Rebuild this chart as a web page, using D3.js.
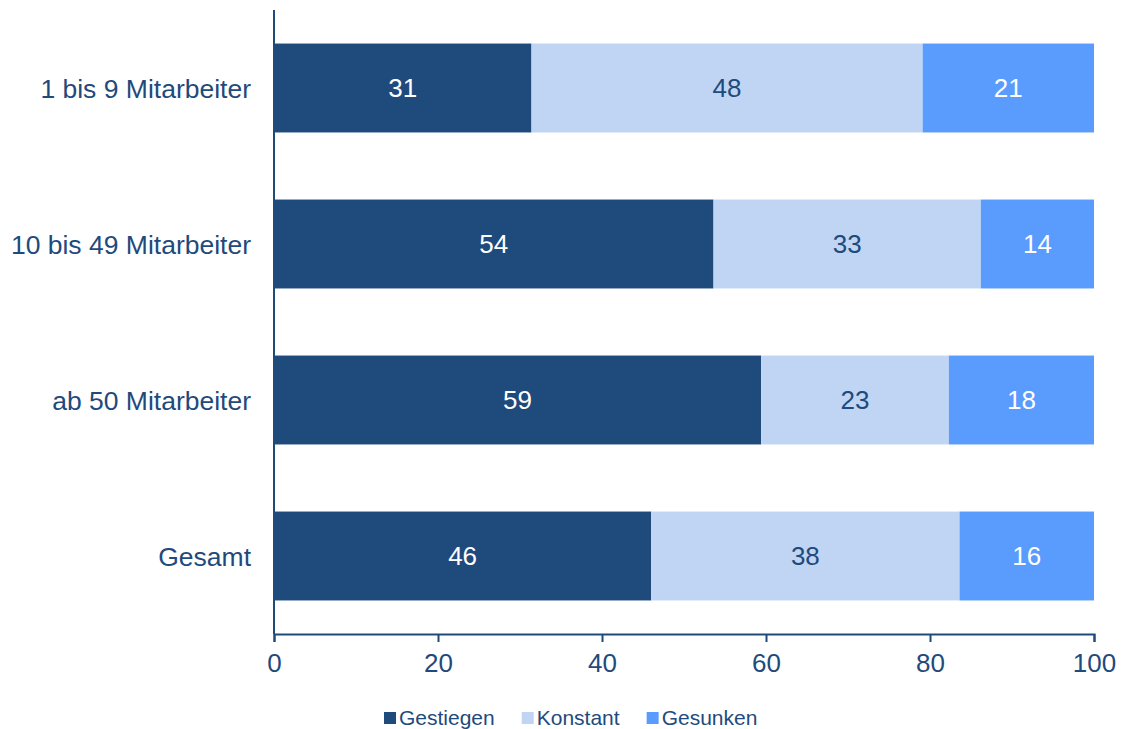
<!DOCTYPE html>
<html>
<head>
<meta charset="utf-8">
<script src="https://cdn.jsdelivr.net/npm/d3@7"></script>
<style>
  body { margin: 0; background: #fff; }
  text { font-family: "Liberation Sans", Arial, sans-serif; }
</style>
</head>
<body>
<script>
// chart data
var categories = ["1 bis 9 Mitarbeiter", "10 bis 49 Mitarbeiter", "ab 50 Mitarbeiter", "Gesamt"];
var seriesNames = ["Gestiegen", "Konstant", "Gesunken"];
var gestiegen = [31.4, 53.6, 59.4, 46.0];
var konstant = [47.7, 32.6, 22.9, 37.6];
var gesunken = [20.9, 13.8, 17.7, 16.4];
var xTicks = [0, 20, 40, 60, 80, 100];

var colors = ["#1f4a7c", "#c0d5f4", "#5a9bfe"];
var labelColors = ["#ffffff", "#1f4a7c", "#ffffff"];
var axisColor = "#1f4a7c";

var width = 1123, height = 729;
var margin = {top: 10, left: 274, right: 30, bottom: 95};

var svg = d3.select("body").append("svg")
  .attr("width", width)
  .attr("height", height);

var x = d3.scaleLinear().domain([0, 100]).range([margin.left, 1094]);
var y = d3.scaleBand().domain(categories)
  .range([margin.top, height - margin.bottom])
  .paddingInner(0.43)
  .paddingOuter(0.215);

var rows = categories.map(function(c, i) {
  return {cat: c, Gestiegen: gestiegen[i], Konstant: konstant[i], Gesunken: gesunken[i]};
});
var stacked = d3.stack().keys(seriesNames)(rows);

// bars
var layer = svg.selectAll("g.layer")
  .data(stacked)
  .enter().append("g")
  .attr("class", "layer")
  .attr("fill", function(d, i) { return colors[i]; });

layer.selectAll("rect")
  .data(function(d) { return d; })
  .enter().append("rect")
  .attr("x", function(d) { return x(d[0]); })
  .attr("y", function(d) { return y(d.data.cat); })
  .attr("width", function(d) { return x(d[1]) - x(d[0]); })
  .attr("height", y.bandwidth());

// value labels
stacked.forEach(function(s, si) {
  svg.append("g").selectAll("text")
    .data(s)
    .enter().append("text")
    .attr("x", function(d) { return (x(d[0]) + x(d[1])) / 2; })
    .attr("y", function(d) { return y(d.data.cat) + y.bandwidth() / 2; })
    .attr("dy", "0.36em")
    .attr("text-anchor", "middle")
    .attr("font-size", 26)
    .attr("fill", labelColors[si])
    .text(function(d) { return Math.round(d[1] - d[0]); });
});

// category labels
svg.append("g").selectAll("text")
  .data(categories)
  .enter().append("text")
  .attr("x", 251)
  .attr("y", function(d) { return y(d) + y.bandwidth() / 2; })
  .attr("dy", "0.36em")
  .attr("text-anchor", "end")
  .attr("font-size", 26.5)
  .attr("fill", axisColor)
  .text(function(d) { return d; });

// axes
var axisY = height - margin.bottom;
svg.append("line")
  .attr("x1", x(0)).attr("x2", x(0))
  .attr("y1", margin.top).attr("y2", axisY)
  .attr("stroke", axisColor).attr("stroke-width", 2);

var xAxis = svg.append("g")
  .attr("transform", "translate(0," + axisY + ")")
  .call(d3.axisBottom(x).tickValues(xTicks).tickSize(8).tickPadding(12).tickFormat(d3.format("d")));
xAxis.select(".domain").attr("stroke", axisColor).attr("stroke-width", 2);
xAxis.selectAll(".tick line").attr("stroke", axisColor).attr("stroke-width", 2);
xAxis.selectAll(".tick text")
  .attr("fill", axisColor)
  .attr("font-size", 26)
  .attr("font-family", "Liberation Sans, Arial, sans-serif");

// legend
var legend = svg.append("g").attr("transform", "translate(384,712)");
var lx = 0;
seriesNames.forEach(function(name, i) {
  var g = legend.append("g").attr("transform", "translate(" + lx + ",0)");
  g.append("rect").attr("width", 12).attr("height", 12).attr("fill", colors[i]);
  var t = g.append("text")
    .attr("x", 15).attr("y", 13)
    .attr("font-size", 21)
    .attr("fill", axisColor)
    .text(name);
  lx += 15 + t.node().getComputedTextLength() + 27;
});
</script>
</body>
</html>
